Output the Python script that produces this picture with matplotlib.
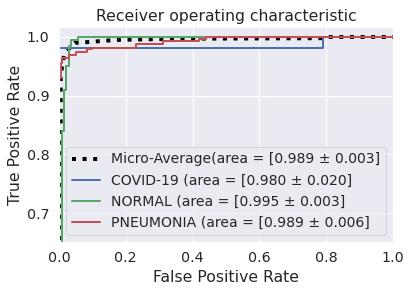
import matplotlib
matplotlib.use("Agg")
import matplotlib.pyplot as plt
import seaborn as sns

sns.set_theme(style="darkgrid", font_scale=1.3)
plt.rcParams['font.family'] = ['DejaVu Sans']

# Micro-average ROC
micro_fpr = [0.0, 0.005, 0.005, 0.01, 0.015, 0.02, 0.03, 0.048, 0.078, 0.17, 0.35, 0.79, 0.80, 1.0]
micro_tpr = [0.0, 0.78, 0.93, 0.955, 0.968, 0.975, 0.98, 0.99, 0.991, 0.995, 0.997, 0.998, 1.0, 1.0]

# COVID-19
covid_fpr = [0.0, 0.0, 0.79, 0.79, 1.0]
covid_tpr = [0.0, 0.981, 0.981, 1.0, 1.0]

# NORMAL
normal_fpr = [0.0, 0.008, 0.008, 0.015, 0.015, 0.022, 0.022, 0.03, 0.03, 0.037, 0.037, 0.057, 0.057, 1.0]
normal_tpr = [0.0, 0.0, 0.84, 0.84, 0.91, 0.91, 0.95, 0.95, 0.985, 0.985, 0.995, 0.995, 1.0, 1.0]

# PNEUMONIA
pneu_fpr = [0.0, 0.0, 0.005, 0.005, 0.01, 0.01, 0.03, 0.03, 0.05, 0.05, 0.085, 0.085, 0.10, 0.10,
            0.23, 0.23, 0.31, 0.31, 0.42, 0.42, 0.44, 0.44, 1.0]
pneu_tpr = [0.0, 0.93, 0.93, 0.955, 0.955, 0.965, 0.965, 0.97, 0.97, 0.975, 0.975, 0.98, 0.98, 0.982,
            0.982, 0.988, 0.988, 0.993, 0.993, 0.996, 0.996, 1.0, 1.0]

labels = ["Micro-Average(area = [0.989 ± 0.003]",
          "COVID-19 (area = [0.980 ± 0.020]",
          "NORMAL (area = [0.995 ± 0.003]",
          "PNEUMONIA (area = [0.989 ± 0.006]"]

pal = sns.color_palette("deep")

fig = plt.figure(figsize=(411 / 72, 292 / 72), dpi=72)
ax = fig.add_axes([59 / 411, 1 - 242 / 292, (393 - 59) / 411, (242 - 27) / 292])

ax.plot(micro_fpr, micro_tpr, color="black", linestyle=":", linewidth=4, label=labels[0])
ax.plot(covid_fpr, covid_tpr, color=pal[0], linewidth=2, label=labels[1])
ax.plot(normal_fpr, normal_tpr, color=pal[2], linewidth=2, label=labels[2])
ax.plot(pneu_fpr, pneu_tpr, color=pal[3], linewidth=2, label=labels[3])

ax.set_xlim(0.0, 1.0)
ax.set_ylim(0.651, 1.017)
ax.set_xlabel("False Positive Rate")
ax.set_ylabel("True Positive Rate")
ax.set_title("Receiver operating characteristic")
ax.legend(loc="lower right", fontsize=14)

fig.savefig("out.png", dpi=72)
